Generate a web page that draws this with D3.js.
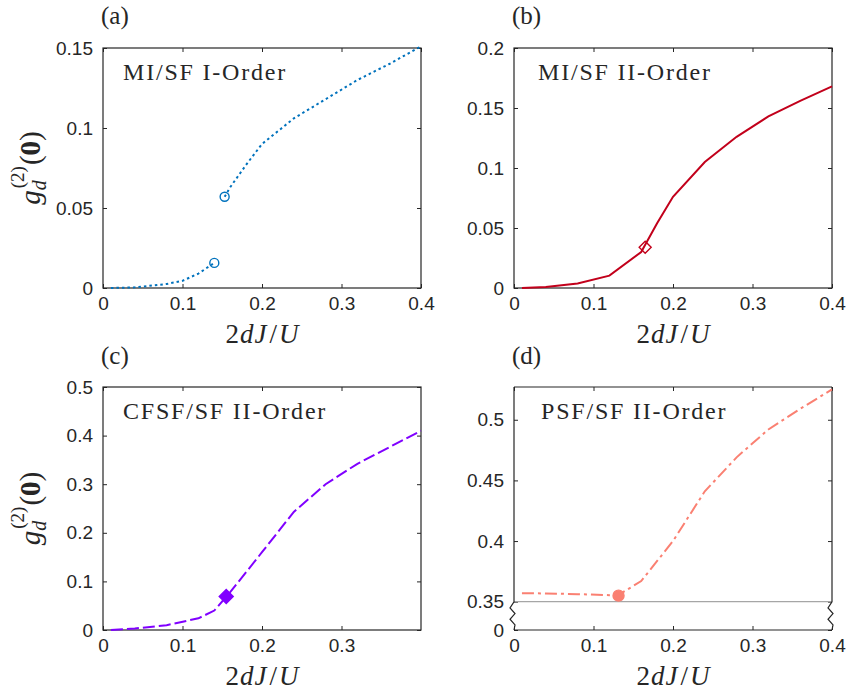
<!DOCTYPE html>
<html>
<head>
<meta charset="utf-8">
<script src="https://cdn.jsdelivr.net/npm/d3@7"></script>
<style>
  body { margin: 0; background: #fff; }
  svg text { fill: #262626; }
</style>
</head>
<body>
<svg id="chart" width="850" height="700"></svg>
<script>
// ---- data ----
const xTicks = [0, 0.1, 0.2, 0.3, 0.4];
const xTicksC = [0, 0.1, 0.2, 0.3];

// (a) MI/SF first order, two branches
const aLowX = [0.01, 0.04, 0.08, 0.1, 0.12, 0.14];
const aLowY = [0, 0.0004, 0.0025, 0.0045, 0.009, 0.0157];
const aHighX = [0.153, 0.16, 0.18, 0.2, 0.24, 0.28, 0.32, 0.36, 0.4];
const aHighY = [0.057, 0.063, 0.077, 0.09, 0.106, 0.118, 0.130, 0.140, 0.151];
const aYTicks = [0, 0.05, 0.1, 0.15];

// (b) MI/SF second order
const bX = [0.01, 0.04, 0.08, 0.12, 0.16, 0.18, 0.2, 0.24, 0.28, 0.32, 0.36, 0.4];
const bY = [0, 0.0008, 0.0038, 0.0103, 0.03, 0.054, 0.076, 0.105, 0.126, 0.143, 0.156, 0.168];
const bMark = [0.165, 0.034];
const bYTicks = [0, 0.05, 0.1, 0.15, 0.2];

// (c) CFSF/SF second order
const cX = [0.01, 0.04, 0.08, 0.12, 0.14, 0.16, 0.2, 0.24, 0.28, 0.32, 0.36, 0.4];
const cY = [0, 0.003, 0.01, 0.024, 0.04, 0.078, 0.16, 0.243, 0.3, 0.342, 0.376, 0.41];
const cMark = [0.155, 0.069];
const cYTicks = [0, 0.1, 0.2, 0.3, 0.4, 0.5];

// (d) PSF/SF second order (broken y axis)
const dX = [0.01, 0.04, 0.08, 0.12, 0.13, 0.16, 0.2, 0.24, 0.28, 0.32, 0.36, 0.4];
const dY = [0.357, 0.3568, 0.3562, 0.3554, 0.355, 0.367, 0.4, 0.441, 0.469, 0.492, 0.509, 0.525];
const dMark = [0.1315, 0.355];
const dYTicks = [0, 0.35, 0.4, 0.45, 0.5];

const svg = d3.select("#chart");
const axisCol = "#262626";
const serif = "'Liberation Serif', 'Times New Roman', serif";
const tickLen = 4;

const zip = (xs, ys) => xs.map((x, i) => [x, ys[i]]);

function panel(opt) {
  const x = d3.scaleLinear().domain([0, 0.4]).range([opt.left, opt.right]);
  const y = d3.scaleLinear().domain(opt.yDomain).range(opt.yRange);
  const g = svg.append("g");

  // ticks (inward, all four sides)
  const bottom = g.append("g").attr("transform", `translate(0,${opt.bottom})`)
    .call(d3.axisBottom(x).tickValues(opt.xTicks).tickSize(-tickLen).tickPadding(9)
      .tickFormat(d => d === 0 ? "0" : d3.format(".1f")(d)));
  const top = g.append("g").attr("transform", `translate(0,${opt.top})`)
    .call(d3.axisTop(x).tickValues(opt.xTicks).tickSize(-tickLen).tickFormat(""));
  const left = g.append("g").attr("transform", `translate(${opt.left},0)`)
    .call(d3.axisLeft(y).tickValues(opt.yTicks).tickSize(-tickLen).tickPadding(10)
      .tickFormat(d => d === 0 ? "0" : String(+d.toFixed(2))));
  const right = g.append("g").attr("transform", `translate(${opt.right},0)`)
    .call(d3.axisRight(y).tickValues(opt.yTicks).tickSize(-tickLen).tickFormat(""));
  [bottom, top, left, right].forEach(a => {
    a.select(".domain").remove();
    a.selectAll("line").attr("stroke", axisCol);
    a.selectAll("text").attr("font-family", "'Liberation Sans', Arial, sans-serif")
      .attr("font-size", 19).attr("fill", axisCol);
  });

  // box
  if (opt.broken) {
    const yb = y(0.35);
    g.append("line").attr("x1", opt.left).attr("x2", opt.right)
      .attr("y1", yb).attr("y2", yb).attr("stroke", "#a6a6a6").attr("stroke-width", 1.2);
    const zig = [[0, 0], [-4, 0.22], [1, 0.42], [-4, 0.62], [1, 0.82], [0, 1]];
    [opt.left, opt.right].forEach(xs => {
      const pts = [[xs, opt.top], [xs, yb]]
        .concat(zig.map(([dx, f]) => [xs + dx, yb + f * (opt.bottom - yb)]));
      g.append("path").attr("d", d3.line()(pts)).attr("fill", "none")
        .attr("stroke", axisCol).attr("stroke-width", 1.2);
    });
    g.append("line").attr("x1", opt.left).attr("x2", opt.right)
      .attr("y1", opt.top).attr("y2", opt.top).attr("stroke", axisCol).attr("stroke-width", 1.2);
    g.append("line").attr("x1", opt.left).attr("x2", opt.right)
      .attr("y1", opt.bottom).attr("y2", opt.bottom).attr("stroke", axisCol).attr("stroke-width", 1.2);
  } else {
    g.append("rect").attr("x", opt.left).attr("y", opt.top)
      .attr("width", opt.right - opt.left).attr("height", opt.bottom - opt.top)
      .attr("fill", "none").attr("stroke", axisCol).attr("stroke-width", 1.2);
  }

  const line = d3.line().x(d => x(d[0])).y(d => y(d[1]));
  opt.series.forEach(s => {
    g.append("path").datum(s).attr("d", line).attr("fill", "none")
      .attr("stroke", opt.color).attr("stroke-width", 2)
      .attr("stroke-dasharray", opt.dash);
  });

  // markers
  (opt.marks || []).forEach(m => {
    const cx = x(m[0]), cy = y(m[1]);
    if (opt.marker === "circle" || opt.marker === "dot") {
      g.append("circle").attr("cx", cx).attr("cy", cy).attr("r", opt.marker === "dot" ? 5.5 : 4.5)
        .attr("fill", opt.marker === "dot" ? opt.color : "none")
        .attr("stroke", opt.color).attr("stroke-width", 1.4);
    } else {
      const r = opt.marker === "fdiamond" ? 7 : 6;
      g.append("path").attr("d", `M${cx},${cy - r}L${cx + r},${cy}L${cx},${cy + r}L${cx - r},${cy}Z`)
        .attr("fill", opt.marker === "fdiamond" ? opt.color : "none")
        .attr("stroke", opt.color).attr("stroke-width", 1.4);
    }
  });

  // in-axes title
  g.append("text").attr("x", opt.left + opt.titleDx).attr("y", opt.top + 32)
    .attr("font-family", serif)
    .attr("font-size", 24).attr("letter-spacing", 1.8).attr("fill", "#000")
    .text(opt.title);

  // panel letter
  g.append("text").attr("x", opt.left - 2).attr("y", opt.letterY)
    .attr("font-family", serif)
    .attr("font-size", 25).attr("fill", "#000").text(opt.letter);

  // x label 2dJ/U
  const xl = g.append("text").attr("x", (opt.left + opt.right) / 2).attr("y", opt.bottom + 55)
    .attr("text-anchor", "middle").attr("font-family", serif)
    .attr("font-size", 27).attr("fill", "#000");
  xl.append("tspan").text("2");
  xl.append("tspan").attr("font-style", "italic").attr("dx", 1).text("d");
  xl.append("tspan").attr("font-style", "italic").attr("dx", 1).text("J");
  xl.append("tspan").attr("dx", 3).text("/");
  xl.append("tspan").attr("font-style", "italic").attr("dx", 2).text("U");

  // y label
  if (opt.ylabel) {
    const cy = (opt.top + opt.bottom) / 2;
    const yl = g.append("text").attr("transform", `translate(40,${cy}) rotate(-90)`)
      .attr("text-anchor", "middle").attr("font-family", serif)
      .attr("font-size", 29).attr("fill", "#000");
    yl.append("tspan").attr("font-style", "italic").text("g");
    yl.append("tspan").attr("font-style", "italic").attr("font-size", 20).attr("dy", 6).text("d");
    yl.append("tspan").attr("font-size", 19).attr("dx", -8).attr("dy", -22).text("(2)");
    yl.append("tspan").attr("dy", 16).attr("dx", 1).text("(");
    yl.append("tspan").attr("font-weight", "bold").text("0");
    yl.append("tspan").text(")");
  }
}

panel({
  left: 103, right: 421, top: 48, bottom: 288,
  yDomain: [0, 0.15], yRange: [288, 48], yTicks: aYTicks, xTicks: xTicks,
  series: [zip(aLowX, aLowY), zip(aHighX, aHighY)],
  marks: [[aLowX[aLowX.length - 1], aLowY[aLowY.length - 1]], [aHighX[0], aHighY[0]]],
  marker: "circle", color: "#0072BD", dash: "2.5,3",
  title: "MI/SF I-Order", titleDx: 20, letter: "(a)", letterY: 24, ylabel: true
});

panel({
  left: 514, right: 832, top: 48, bottom: 288,
  yDomain: [0, 0.2], yRange: [288, 48], yTicks: bYTicks, xTicks: xTicks,
  series: [zip(bX, bY)], marks: [bMark],
  marker: "diamond", color: "#c2001b", dash: null,
  title: "MI/SF II-Order", titleDx: 24, letter: "(b)", letterY: 24, ylabel: false
});

panel({
  left: 103, right: 421, top: 387, bottom: 630,
  yDomain: [0, 0.5], yRange: [630, 387], yTicks: cYTicks, xTicks: xTicksC,
  series: [zip(cX, cY)], marks: [cMark],
  marker: "fdiamond", color: "#8000ff", dash: "12,4",
  title: "CFSF/SF II-Order", titleDx: 20, letter: "(c)", letterY: 364, ylabel: true
});

panel({
  left: 514, right: 832, top: 387, bottom: 630,
  yDomain: [0, 0.35, 0.527], yRange: [630, 601.7, 387], yTicks: dYTicks, xTicks: xTicks,
  series: [zip(dX, dY)], marks: [dMark], broken: true,
  marker: "dot", color: "#fa8072", dash: "12,4,3,4",
  title: "PSF/SF II-Order", titleDx: 27, letter: "(d)", letterY: 364, ylabel: false
});
</script>
</body>
</html>
